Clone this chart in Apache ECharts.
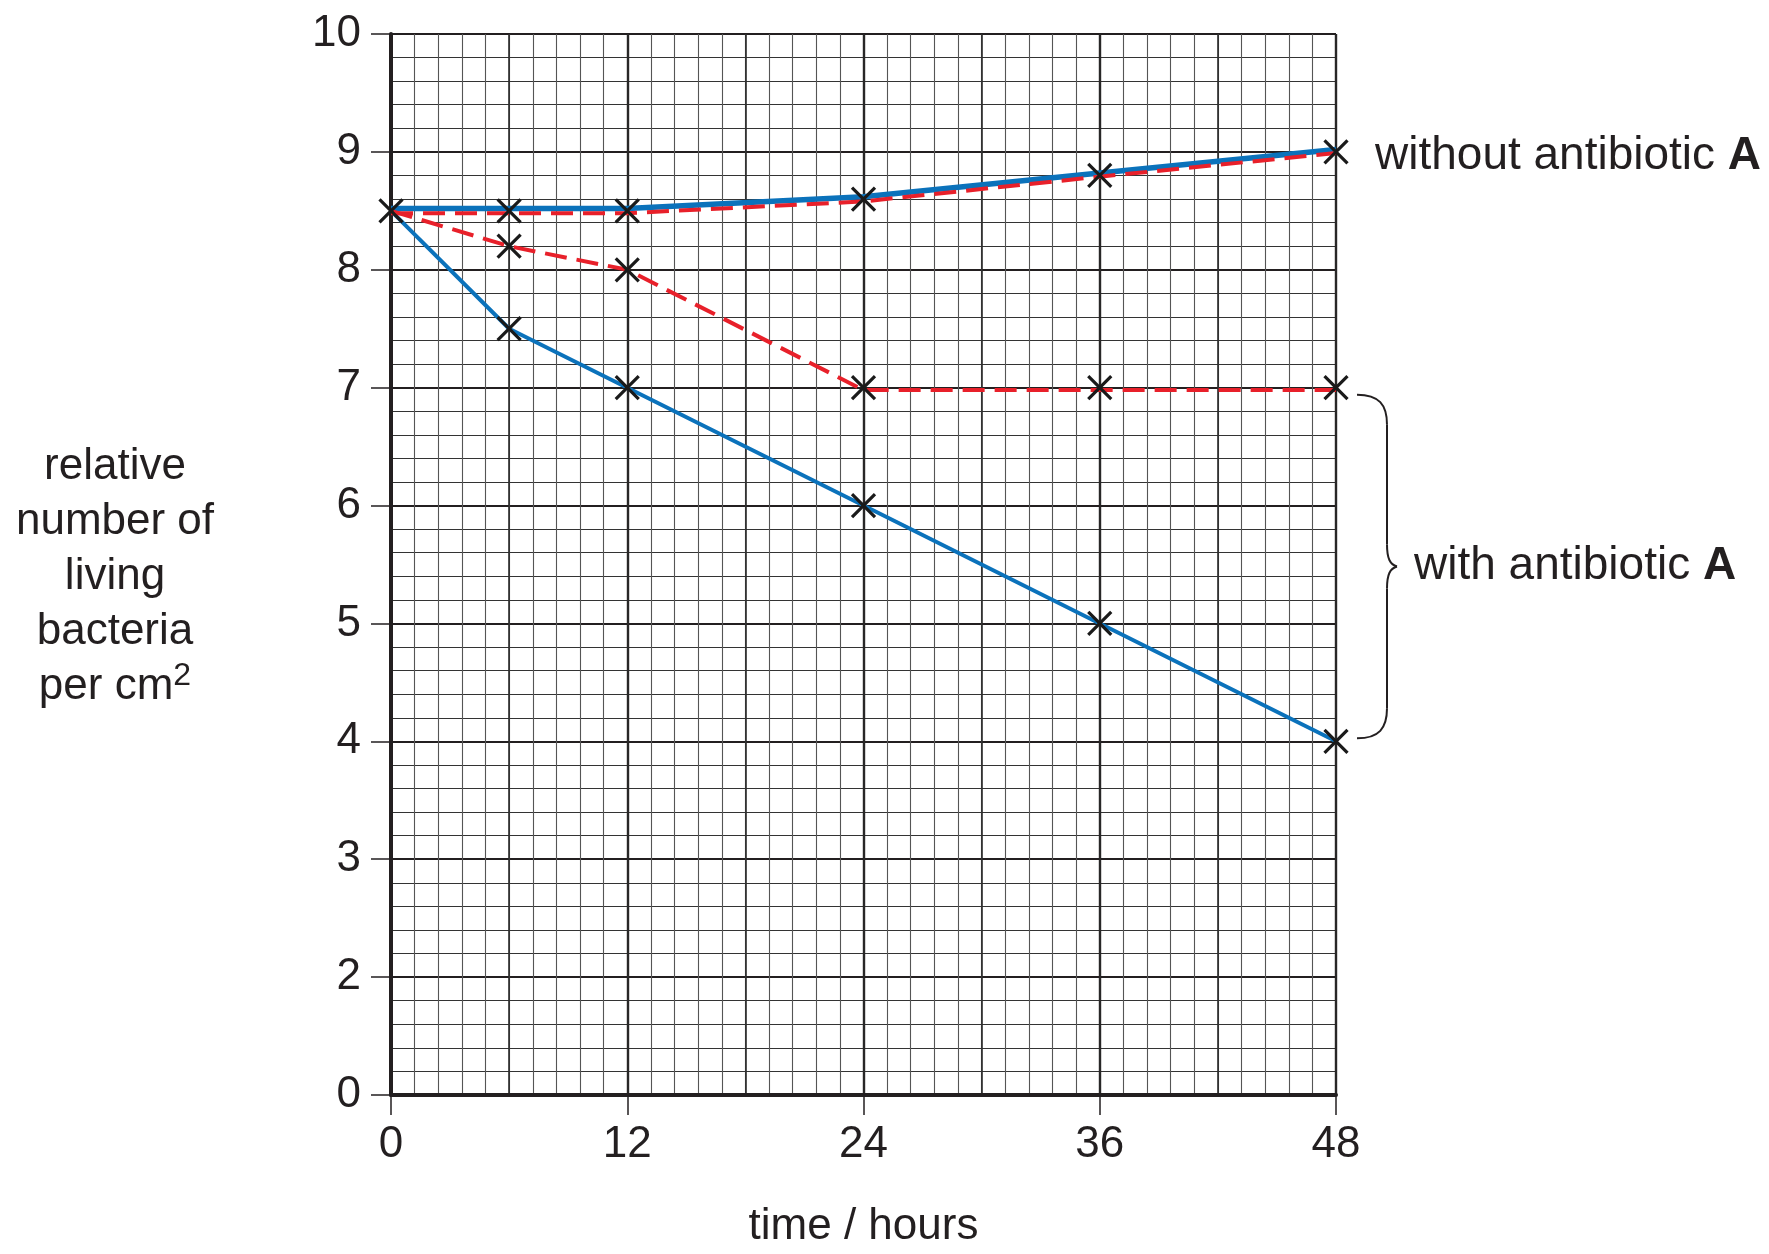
<!DOCTYPE html>
<html>
<head>
<meta charset="utf-8">
<script src="https://cdn.jsdelivr.net/npm/echarts@6/dist/echarts.min.js"></script>
<style>
  html, body {margin: 0; padding: 0; background: #fff;}
  #chart {width: 1769px; height: 1254px;}
</style>
</head>
<body>
<div id="chart"></div>
<script>
// time points (hours)
const hours = [0, 6, 12, 24, 36, 48];
// lines as drawn (the two upper lines are drawn just apart)
const withoutBlue = [8.52, 8.52, 8.52, 8.62, 8.82, 9.02];
const withoutRed = [8.48, 8.48, 8.48, 8.58, 8.79, 8.99];
const withBlue = [8.5, 7.5, 7.0, 6.0, 5.0, 4.0];
const withRed = [8.5, 8.2, 8.0, 6.98, 6.98, 6.98];
// plotted crosses
const crossHours = [0, 6, 12, 24, 36, 48, 6, 12, 24, 36, 48, 6, 12, 24, 36, 48];
const crossValues = [8.5, 8.5, 8.5, 8.6, 8.8, 9.0, 8.2, 8.0, 7.0, 7.0, 7.0, 7.5, 7.0, 6.0, 5.0, 4.0];
// y tick labels (the bottom gridline is labelled 0)
const yTickLabels = ['0', '2', '3', '4', '5', '6', '7', '8', '9', '10'];

const ink = '#231f20';
const blue = '#0b72bb';
const red = '#e8202a';
const font = '"Liberation Sans", Arial, Helvetica, sans-serif';

const pairs = (xs, ys) => xs.map((x, i) => [x, ys[i]]);

const chart = echarts.init(document.getElementById('chart'));
chart.setOption({
  animation: false,
  backgroundColor: '#fff',
  grid: {left: 391, right: 433, top: 34, bottom: 156},
  xAxis: [
    {
      type: 'value',
      min: 0,
      max: 48,
      interval: 12,
      name: 'time / hours',
      nameLocation: 'middle',
      nameGap: 110,
      nameTextStyle: {fontFamily: font, fontSize: 44, color: ink},
      axisLine: {show: true, onZero: false, lineStyle: {color: ink, width: 4}},
      axisTick: {show: true, inside: false, length: 20, lineStyle: {color: ink, width: 1.5}},
      axisLabel: {fontFamily: font, fontSize: 44, color: ink, margin: 28},
      splitLine: {show: true, lineStyle: {color: ink, width: 2.4}},
      minorTick: {show: false, splitNumber: 10},
      minorSplitLine: {show: true, lineStyle: {color: '#555', width: 1.1}}
    },
    {
      type: 'value',
      min: 0,
      max: 48,
      interval: 6,
      axisLine: {show: false},
      axisTick: {show: false},
      axisLabel: {show: false},
      splitLine: {show: true, lineStyle: {color: '#2a2a2a', width: 1.6}}
    }
  ],
  yAxis: {
    type: 'value',
    min: 1,
    max: 10,
    interval: 1,
    axisLine: {show: true, onZero: false, lineStyle: {color: ink, width: 4}},
    axisTick: {show: true, inside: false, length: 20, lineStyle: {color: ink, width: 1.5}},
    axisLabel: {
      fontFamily: font, fontSize: 44, color: ink, margin: 30,
      formatter: v => yTickLabels[Math.round(v) - 1]
    },
    splitLine: {show: true, lineStyle: {color: ink, width: 2.2}},
    minorTick: {show: false, splitNumber: 5},
    minorSplitLine: {show: true, lineStyle: {color: '#333', width: 1.1}}
  },
  series: [
    {
      name: 'without antibiotic A (red)',
      type: 'line',
      data: pairs(hours, withoutRed),
      symbol: 'none',
      lineStyle: {color: red, width: 4, type: [22, 10]},
      z: 3
    },
    {
      name: 'without antibiotic A (blue)',
      type: 'line',
      data: pairs(hours, withoutBlue),
      symbol: 'none',
      lineStyle: {color: blue, width: 5.5},
      z: 2
    },
    {
      name: 'with antibiotic A (red)',
      type: 'line',
      data: pairs(hours, withRed),
      symbol: 'none',
      lineStyle: {color: red, width: 4, type: [22, 10]},
      z: 3
    },
    {
      name: 'with antibiotic A (blue)',
      type: 'line',
      data: pairs(hours, withBlue),
      symbol: 'none',
      lineStyle: {color: blue, width: 4},
      z: 2
    },
    {
      name: 'points',
      type: 'scatter',
      data: pairs(crossHours, crossValues),
      symbol: 'path://M0,0L10,10M10,0L0,10',
      symbolSize: 23,
      itemStyle: {color: 'transparent', borderColor: '#1a1a1a', borderWidth: 3.2, opacity: 1},
      z: 5
    }
  ]
});

// annotations placed from the axis scales
const px = (x, y) => chart.convertToPixel({gridIndex: 0}, [x, y]);
const p9 = px(48, 9);
const p7 = px(48, 7);
const p4 = px(48, 4);
const bx0 = p7[0] + 21;
const bx1 = bx0 + 30;
const braceTop = p7[1] + 7;
const braceBot = p4[1] - 3;
const braceMid = (braceTop + braceBot) / 2;
const braceStyle = {fill: 'none', stroke: ink, lineWidth: 2};
const braceParts = [
  {type: 'bezierCurve', shape: {x1: bx0, y1: braceTop, cpx1: bx0 + 22, cpy1: braceTop, cpx2: bx1, cpy2: braceTop + 10, x2: bx1, y2: braceTop + 30}},
  {type: 'line', shape: {x1: bx1, y1: braceTop + 30, x2: bx1, y2: braceMid - 22}},
  {type: 'bezierCurve', shape: {x1: bx1, y1: braceMid - 22, cpx1: bx1, cpy1: braceMid - 8, cpx2: bx1 + 3, cpy2: braceMid - 2, x2: bx1 + 10, y2: braceMid}},
  {type: 'bezierCurve', shape: {x1: bx1 + 10, y1: braceMid, cpx1: bx1 + 3, cpy1: braceMid + 2, cpx2: bx1, cpy2: braceMid + 8, x2: bx1, y2: braceMid + 22}},
  {type: 'line', shape: {x1: bx1, y1: braceMid + 22, x2: bx1, y2: braceBot - 30}},
  {type: 'bezierCurve', shape: {x1: bx1, y1: braceBot - 30, cpx1: bx1, cpy1: braceBot - 10, cpx2: bx0 + 22, cpy2: braceBot, x2: bx0, y2: braceBot}}
].map(p => Object.assign(p, {style: braceStyle}));

chart.setOption({
  graphic: [
    {
      type: 'text',
      x: 115,
      y: 439,
      style: {
        text: 'relative\nnumber of\nliving\nbacteria\nper cm{sup|2}',
        fontFamily: font,
        fontSize: 44,
        lineHeight: 55,
        fill: ink,
        align: 'center',
        verticalAlign: 'top',
        rich: {
          sup: {fontFamily: font, fontSize: 32, fill: ink, padding: [0, 0, 20, 0]}
        }
      }
    },
    {
      type: 'text',
      x: p9[0] + 39,
      y: p9[1] + 4,
      style: {
        text: 'without antibiotic {b|A}',
        fontFamily: font, fontSize: 46, fill: ink, verticalAlign: 'middle',
        rich: {b: {fontFamily: font, fontSize: 46, fontWeight: 'bold', fill: ink}}
      }
    },
    {
      type: 'text',
      x: bx1 + 27,
      y: braceMid,
      style: {
        text: 'with antibiotic {b|A}',
        fontFamily: font, fontSize: 46, fill: ink, verticalAlign: 'middle',
        rich: {b: {fontFamily: font, fontSize: 46, fontWeight: 'bold', fill: ink}}
      }
    }
  ].concat(braceParts)
});
</script>
</body>
</html>
